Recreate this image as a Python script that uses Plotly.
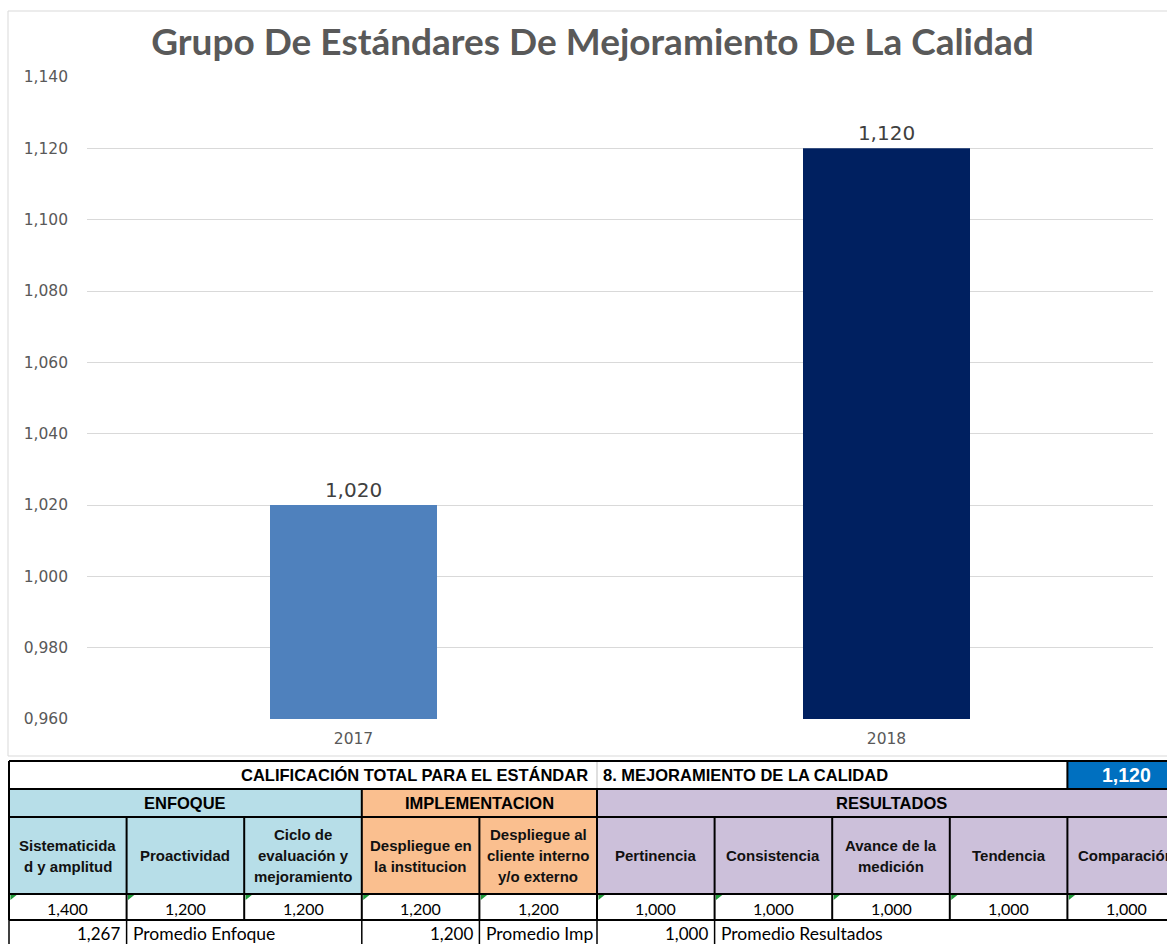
import plotly.graph_objects as go

# ---------------- data ----------------
years = ["2017", "2018"]
scores = [1.020, 1.120]
bar_colors = ["#4f81bd", "#002060"]

title_text = "Grupo De Estándares De Mejoramiento De La Calidad"
y_ticks = [0.960, 0.980, 1.000, 1.020, 1.040, 1.060, 1.080, 1.100, 1.120, 1.140]

total_label = "CALIFICACIÓN TOTAL PARA EL ESTÁNDAR"
standard_name = "8. MEJORAMIENTO DE LA CALIDAD"
total_score = 1.120

groups = ["ENFOQUE", "IMPLEMENTACION", "RESULTADOS"]
group_sizes = [3, 2, 5]
group_colors = ["#b7dee8", "#fabf8f", "#ccc0da"]

criteria = [
    "Sistematicida\nd y amplitud",
    "Proactividad",
    "Ciclo de\nevaluación y\nmejoramiento",
    "Despliegue en\nla institucion",
    "Despliegue al\ncliente interno\ny/o externo",
    "Pertinencia",
    "Consistencia",
    "Avance de la\nmedición",
    "Tendencia",
    "Comparación",
]
criteria_scores = [1.400, 1.200, 1.200, 1.200, 1.200, 1.000, 1.000, 1.000, 1.000, 1.000]
group_averages = [1.267, 1.200, 1.000]
average_labels = ["Promedio Enfoque", "Promedio Imp", "Promedio Resultados"]

# ---------------- layout constants ----------------
W, H = 1167, 944
PLOT_L, PLOT_R, PLOT_T, PLOT_B = 87, 1153, 77, 719
COL_W = 117.6
TX0 = 9
TBL_AX_TOP = 757
ROW_EDGES_PX = [761, 789, 817, 894, 920, 950]
TEXT_GREY = "#595959"


def fmt(v):
    return f"{v:.3f}".replace(".", ",")


def py(px):
    return px - TBL_AX_TOP


fig = go.Figure()

fig.add_trace(go.Bar(
    x=years, y=scores,
    marker=dict(color=bar_colors, line=dict(width=0)),
    texttemplate="%{y:.3f}", textposition="outside",
    textfont=dict(family="DejaVu Sans", size=20, color="#404040"),
    cliponaxis=False, showlegend=False, hoverinfo="skip",
    xaxis="x", yaxis="y",
))

shapes = []
annotations = []

# chart frame
shapes.append(dict(type="rect", xref="paper", yref="paper",
                   x0=8 / W, x1=1.02, y0=1 - 756 / H, y1=1 - 11 / H,
                   line=dict(color="#d9d9d9", width=1), fillcolor="rgba(0,0,0,0)", layer="below"))

R = [py(p) for p in ROW_EDGES_PX]
NCOL = len(criteria)
XMAX = NCOL + 0.5
BLK = dict(color="black", width=2)


def rect(x0, x1, y0, y1, fill):
    shapes.append(dict(type="rect", xref="x2", yref="y2", x0=x0, x1=x1, y0=y0, y1=y1,
                       line=dict(width=0), fillcolor=fill, layer="below"))


def line(x0, y0, x1, y1, ln=BLK):
    shapes.append(dict(type="line", xref="x2", yref="y2", x0=x0, x1=x1, y0=y0, y1=y1, line=ln))


def text(x, y, s, size, family, color="black", bold=False, xanchor="center"):
    if bold:
        s = "<b>" + s + "</b>"
    annotations.append(dict(xref="x2", yref="y2", x=x, y=y, text=s, showarrow=False,
                            xanchor=xanchor, yanchor="middle",
                            font=dict(family=family, size=size, color=color)))


HDR_FONT = "Liberation Sans"

# row 0: total
rect(0, XMAX, R[0], R[1], "white")
rect(NCOL - 1, XMAX, R[0], R[1], "#0070c0")
text(4.94, (R[0] + R[1]) / 2, total_label, 16.5, HDR_FONT, bold=True, xanchor="right")
text(5.03, (R[0] + R[1]) / 2, standard_name, 16.5, HDR_FONT, bold=True, xanchor="left")
text(NCOL - 0.5, (R[0] + R[1]) / 2, fmt(total_score), 19.5, "Liberation Sans", color="white", bold=True)
line(5, R[0], 5, R[1], dict(color="#bfbfbf", width=1))
line(NCOL - 1, R[0], NCOL - 1, R[1])

# row 1: groups ; row 2: criteria headers
start = 0
for g, n, c in zip(groups, group_sizes, group_colors):
    rect(start, start + n, R[1], R[2], c)
    rect(start, start + n, R[2], R[3], c)
    text(start + n / 2, (R[1] + R[2]) / 2, g, 16.5, HDR_FONT, bold=True)
    line(start, R[1], start, R[2])
    start += n

LINE_GAP = 21
for i, lbl in enumerate(criteria):
    parts = lbl.split("\n")
    mid = (R[2] + R[3]) / 2
    for k, p in enumerate(parts):
        yy = mid + (k - (len(parts) - 1) / 2) * LINE_GAP
        text(i + 0.5, yy, p, 15, "Liberation Sans", color="#111111", bold=True)
    line(i, R[2], i, R[4])
    # values row
    rect(i, i + 1, R[3], R[4], "white")
    text(i + 0.5, (R[3] + R[4]) / 2 + 1, fmt(criteria_scores[i]), 16, "Lato")
    shapes.append(dict(type="path", xref="x2", yref="y2",
                       path=f"M {i + 0.012},{R[3] + 1} L {i + 0.065},{R[3] + 1} L {i + 0.012},{R[3] + 6} Z",
                       fillcolor="#1f9a3a", line=dict(width=0)))
line(NCOL, R[2], NCOL, R[4])

# horizontal borders
for k in range(5):
    line(0, R[k], XMAX, R[k])
line(0, R[0], 0, R[4])

# row 4: averages
start = 0
for avg, lbl, n in zip(group_averages, average_labels, group_sizes):
    col = start + 1
    yy = (R[4] + py(944)) / 2 + 1
    text(col - 0.04, yy, fmt(avg), 17, "Lato", xanchor="right")
    text(col + 0.04, yy, lbl, 17.5, "Lato", xanchor="left")
    start += n
for c in [0, 1, 3, 4, 5, 6]:
    line(c, R[4], c, R[5], dict(color="black", width=1.5))

fig.update_layout(
    template="none",
    autosize=False,
    width=W, height=H,
    margin=dict(l=0, r=0, t=0, b=0, pad=0, autoexpand=False),
    paper_bgcolor="white", plot_bgcolor="rgba(0,0,0,0)",
    separators=",.",
    bargap=1 - 167 / 533,
    title=dict(text="<b>" + title_text + "</b>", x=592.5 / W, xanchor="center",
               y=1 - 42 / H, yanchor="middle", yref="paper",
               font=dict(family="Lato", size=37, color=TEXT_GREY)),
    xaxis=dict(domain=[PLOT_L / W, PLOT_R / W], type="category", range=[-0.5, 1.5],
               showgrid=False, showline=False, zeroline=False, ticks="", automargin=False,
               tickfont=dict(family="DejaVu Sans", size=15.5, color=TEXT_GREY),
               ticklabelstandoff=8, fixedrange=True),
    yaxis=dict(domain=[1 - PLOT_B / H, 1 - PLOT_T / H], range=[0.96, 1.14],
               tickvals=y_ticks, tickformat=".3f", automargin=False,
               showgrid=True, gridcolor="#d9d9d9", gridwidth=1,
               showline=False, zeroline=False, ticks="",
               tickfont=dict(family="DejaVu Sans", size=15.5, color=TEXT_GREY),
               ticklabelstandoff=18, fixedrange=True),
    xaxis2=dict(domain=[0, 1], range=[-TX0 / COL_W, (W - TX0) / COL_W], anchor="y2",
                visible=False, fixedrange=True, automargin=False),
    yaxis2=dict(domain=[0, (H - TBL_AX_TOP) / H], range=[H - TBL_AX_TOP, 0], anchor="x2",
                visible=False, fixedrange=True, automargin=False),
    shapes=shapes,
    annotations=annotations,
)

fig.write_html("out.html", include_plotlyjs=True,
               config={"displayModeBar": False},
               post_script="document.body.style.margin='0';document.body.style.overflow='hidden';")
